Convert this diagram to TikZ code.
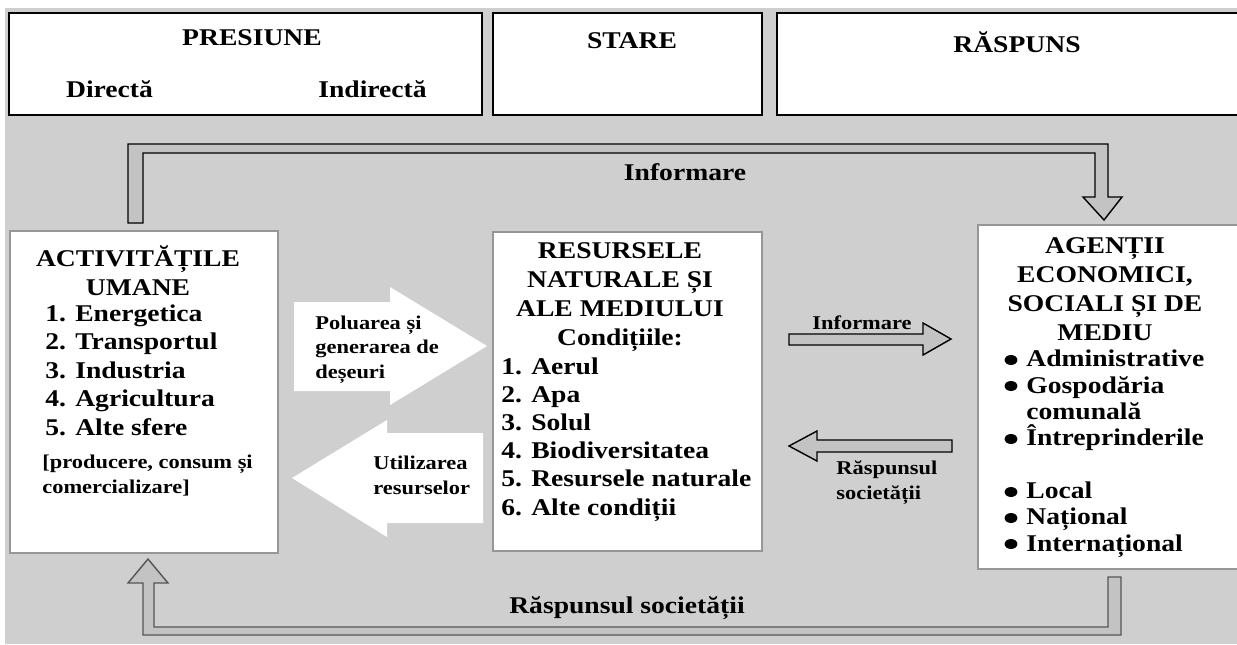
\documentclass[tikz,border=0pt]{standalone}
\usepackage{fontspec}
\setmainfont{Liberation Serif}[FakeStretch=1.15]
\usetikzlibrary{positioning}
\definecolor{bggray}{RGB}{207,207,207}
\definecolor{pipegray}{RGB}{195,195,195}
\definecolor{edgegray}{RGB}{150,150,150}
\definecolor{pipeedge}{RGB}{85,85,85}
\tikzset{headbox/.style = {draw, line width = 1pt, fill = white, inner sep = 0}}
\tikzset{mainbox/.style = {draw = edgegray, line width = 0.6pt, fill = white, inner sep = 0}}
\tikzset{bigtxt/.style = {font = \bfseries\fontsize{12}{14.25}\selectfont, inner sep = 0}}
\tikzset{smalltxt/.style = {font = \bfseries\fontsize{9.75}{12.25}\selectfont, inner sep = 0}}
\tikzset{pipe/.style = {fill = pipegray, line width = 0.7pt, line join = miter}}

\begin{document}
\begin{tikzpicture}[x = 0.5pt, y = -0.5pt]
    \useasboundingbox (0, 0) rectangle (1237, 644);
    \fill [bggray] (5, 8) rectangle (1237, 644);

    % header
    \node [headbox, minimum width = 236.5pt, minimum height = 51pt] (pres) at (245.5, 64) {};
    \node [headbox, minimum width = 134.5pt, minimum height = 51pt] (stare) at (627.5, 64) {};
    \node [headbox, minimum width = 234pt, minimum height = 51pt] (rasp) at (1011, 64) {};
    \node [bigtxt, anchor = base] (presT) at (252, 45) {PRESIUNE};
    \node [bigtxt, anchor = base] (direct) at (109.5, 97) {Directă};
    \node [bigtxt, anchor = base] (indirect) at (372.5, 97) {Indirectă};
    \node [bigtxt, anchor = base] (stareT) at (632, 48) {STARE};
    \node [bigtxt, anchor = base] (raspT) at (1017, 52) {RĂSPUNS};

    % main boxes
    \node [mainbox, minimum width = 134pt, minimum height = 161pt] (activ) at (144, 392) {};
    \node [mainbox, minimum width = 134.5pt, minimum height = 159.5pt] (res) at (627.5, 391.5) {};
    \node [mainbox, minimum width = 133.5pt, minimum height = 172pt] (ag) at (1111.5, 397) {};

    % top feedback pipe
    \draw [pipe] (128, 223) -- (128, 144) -- (1108, 144) -- (1108, 197) -- (1122, 197)
      -- (1104, 220) -- (1083, 197) -- (1095, 197) -- (1095, 153) -- (143, 153) -- (143, 223) -- cycle;
    \node [bigtxt, anchor = base] (infoTop) at (685, 180) {Informare};

    % bottom feedback pipe
    \draw [pipe, draw = pipeedge] (143, 635) -- (1121, 635) -- (1121, 577) -- (1108, 577) -- (1108, 627)
      -- (154, 627) -- (154, 583) -- (168, 583) -- (148, 559) -- (128, 583) -- (143, 583) -- cycle;
    \node [bigtxt, anchor = base] (raspBot) at (627, 613) {Răspunsul societății};

    % white block arrows
    \fill [white] (294, 302) -- (390, 302) -- (390, 287) -- (487, 346) -- (390, 405) -- (390, 391) -- (294, 391) -- cycle;
    \fill [white] (483, 433) -- (387, 433) -- (387, 420) -- (292, 478) -- (387, 537) -- (387, 523) -- (483, 523) -- cycle;
    \node [smalltxt, anchor = base west, align = left] (polu) at (315, 378) {Poluarea și\\generarea de\\deșeuri};
    \node [smalltxt, anchor = base west, align = left] (util) at (373, 494) {Utilizarea\\resurselor};

    % thin arrows between resources and agents
    \draw [pipe] (789, 334) -- (923, 334) -- (923, 323) -- (951, 339) -- (923, 355) -- (923, 345) -- (789, 345) -- cycle;
    \draw [pipe] (952, 440) -- (817, 440) -- (817, 431) -- (789, 446) -- (817, 461) -- (817, 452) -- (952, 452) -- cycle;
    \node [smalltxt, anchor = base] (infoMid) at (862, 329) {Informare};
    \node [smalltxt, anchor = base west, align = left] (raspMid) at (836, 499) {Răspunsul\\societății};

    % left box text
    \node [bigtxt, anchor = base, align = center, font = \bfseries\fontsize{12}{14.5}\selectfont] (activH) at (138, 295) {ACTIVITĂȚILE\\UMANE};
    \node [bigtxt, anchor = base west, align = left] (activL) at (45, 435)
      {1. Energetica\\2. Transportul\\3. Industria\\4. Agricultura\\5. Alte sfere};
    \node [smalltxt, anchor = base west, align = left, font = \bfseries\fontsize{9.75}{12.5}\selectfont] (activN) at (42, 493)
      {[producere, consum și\\comercializare]};

    % middle box text
    \node [bigtxt, anchor = base, align = center, font = \bfseries\fontsize{12}{14.5}\selectfont] (resH) at (620, 345)
      {RESURSELE\\NATURALE ȘI\\ALE MEDIULUI\\Condițiile:};
    \node [bigtxt, anchor = base west, align = left, font = \bfseries\fontsize{12}{14.1}\selectfont] (resL) at (501, 515)
      {1. Aerul\\2. Apa\\3. Solul\\4. Biodiversitatea\\5. Resursele naturale\\6. Alte condiții};

    % right box text
    \node [bigtxt, anchor = base, align = center, font = \bfseries\fontsize{12}{14.35}\selectfont] (agH) at (1105, 340)
      {AGENȚII\\ECONOMICI,\\SOCIALI ȘI DE\\MEDIU};
    \node [bigtxt, anchor = base west, align = left, font = \bfseries\fontsize{12}{13.15}\selectfont] (agL) at (1026, 551)
      {Administrative\\Gospodăria\\comunală\\Întreprinderile\\[13.15pt]Local\\Național\\Internațional};
    \foreach \by in {360, 386, 439, 492, 518, 544}
      \fill (1011, \by) ellipse (3.2pt and 2.5pt);
\end{tikzpicture}
\end{document}
